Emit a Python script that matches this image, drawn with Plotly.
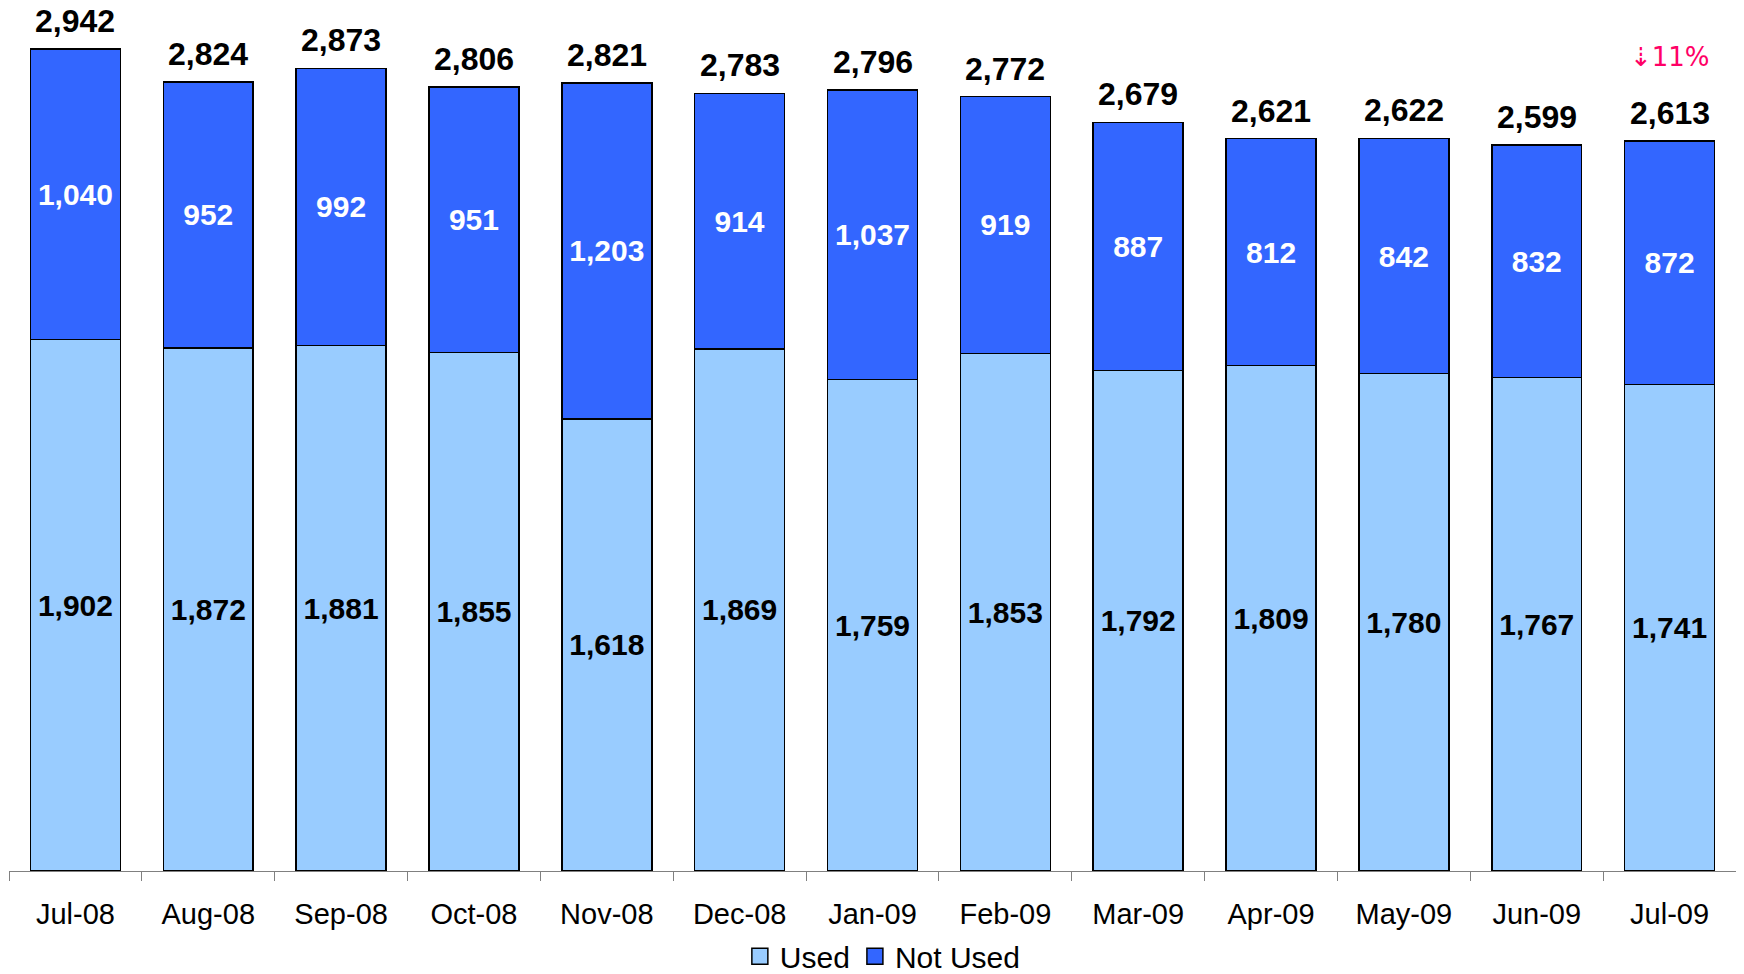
import plotly.graph_objects as go


MONTHS = ["Jul-08", "Aug-08", "Sep-08", "Oct-08", "Nov-08", "Dec-08", "Jan-09",
          "Feb-09", "Mar-09", "Apr-09", "May-09", "Jun-09", "Jul-09"]
USED = [1902, 1872, 1881, 1855, 1618, 1869, 1759, 1853, 1792, 1809, 1780, 1767, 1741]
NOT_USED = [1040, 952, 992, 951, 1203, 914, 1037, 919, 887, 812, 842, 832, 872]
TOTALS = [u + n for u, n in zip(USED, NOT_USED)]
CHANGE_LABEL = "⇣11%"

FONT = "Liberation Sans, Arial, sans-serif"
COLORS = {"Used": "#99CCFF", "Not Used": "#3366FF"}


def stacked_bar(name, values, text_color):
    return go.Bar(
        name=name,
        x=MONTHS,
        y=values,
        marker=dict(color=COLORS[name], line=dict(color="black", width=1.5)),
        texttemplate="<b>%{y:,.0f}</b>",
        textposition="inside",
        insidetextanchor="middle",
        textangle=0,
        textfont=dict(family=FONT, size=30, color=text_color),
        hoverinfo="skip",
        showlegend=False,
    )


fig = go.Figure()
fig.add_trace(stacked_bar("Used", USED, "black"))
fig.add_trace(stacked_bar("Not Used", NOT_USED, "white"))

# legend entries with larger square swatches
for name in ["Used", "Not Used"]:
    fig.add_trace(go.Scatter(
        x=[None], y=[None], mode="markers", name=name,
        marker=dict(symbol="square", size=19, color=COLORS[name],
                    line=dict(color="black", width=1.5)),
    ))

for month, total in zip(MONTHS, TOTALS):
    fig.add_annotation(
        x=month, y=total, text=f"<b>{total:,}</b>",
        showarrow=False, yanchor="bottom", yshift=8,
        font=dict(family=FONT, size=32, color="black"),
    )

fig.add_annotation(
    x=MONTHS[-1], y=2915, text=CHANGE_LABEL, showarrow=False,
    font=dict(family="DejaVu Sans, Liberation Sans, sans-serif", size=26, color="#FF0066"),
)

# the page body adds an 8px margin, so the figure is 8px smaller than the window
fig.update_layout(
    barmode="stack",
    bargap=0.323,
    width=1736,
    height=966,
    margin=dict(l=1, r=8, t=22, b=103),
    plot_bgcolor="white",
    paper_bgcolor="white",
    font=dict(family=FONT, color="black"),
    showlegend=True,
    legend=dict(
        orientation="h", x=0.506, xanchor="center",
        yref="container", y=0.0185, yanchor="middle",
        traceorder="normal", font=dict(family=FONT, size=30),
        itemwidth=30,
    ),
    xaxis=dict(
        showline=True, linecolor="#808080", linewidth=1,
        ticks="outside", tickson="boundaries", ticklen=9, tickcolor="#808080",
        tickfont=dict(family=FONT, size=29), ticklabelstandoff=17,
        showgrid=False, automargin=False,
    ),
    yaxis=dict(range=[0, 3010], visible=False, showgrid=False, automargin=False),
)

fig.write_html("out.html")
